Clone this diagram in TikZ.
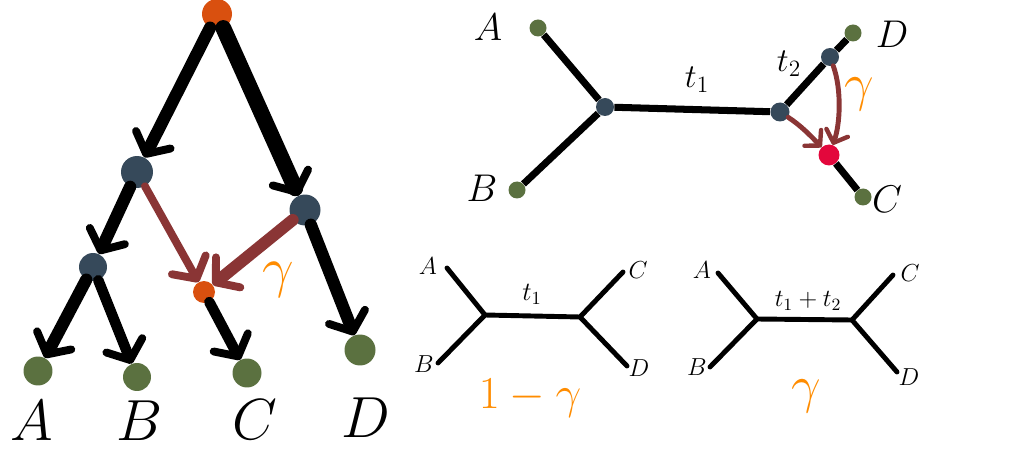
\RequirePackage{fix-cm}
\documentclass[tikz,border=0pt]{standalone}
\usetikzlibrary{arrows.meta}
\definecolor{rootorange}{HTML}{D9500F}
\definecolor{nodeblue}{HTML}{36495A}
\definecolor{leafgreen}{HTML}{5B7140}
\definecolor{redbrown}{HTML}{8A3535}
\definecolor{crimson}{HTML}{E3073C}
\definecolor{gammaorange}{HTML}{FF8C00}
\begin{document}
\begin{tikzpicture}[x=0.02cm,y=-0.02cm,
  dot/.style={circle,inner sep=0pt,draw=none},
  bigtip/.style={-{Straight Barb[length=9pt,width=22pt,line width=4.5pt,round]}},
  bigedge/.style={line width=7pt,black,line cap=round,bigtip},
  rededge/.style={redbrown,line cap=round,bigtip},
  smalltip/.style={-{Straight Barb[length=6pt,width=13pt,line width=2.5pt,round]}},
  topedge/.style={line width=4pt,black},
  topred/.style={line width=2.8pt,redbrown,line cap=round,smalltip},
  treeline/.style={line width=2.8pt,black,line cap=round,line join=round},
  biglab/.style={font=\fontsize{33}{36}\selectfont},
  midlab/.style={font=\fontsize{22}{26}\selectfont},
  smalllab/.style={font=\fontsize{14}{16}\selectfont},
  gam/.style={text=gammaorange,font=\fontsize{30}{34}\selectfont}
]
\useasboundingbox (0,0) rectangle (1010,452);

% ---------- left panel ----------
\node[dot,fill=rootorange,minimum size=0.6cm] (root) at (217,14) {};
\node[dot,fill=nodeblue,minimum size=0.64cm] (lft) at (137,172) {};
\node[dot,fill=nodeblue,minimum size=0.62cm] (rgt) at (305,210) {};
\node[dot,fill=nodeblue,minimum size=0.56cm] (low) at (93,267) {};
\node[dot,fill=rootorange,minimum size=0.44cm] (hyb) at (204,292) {};
\node[dot,fill=leafgreen,minimum size=0.58cm] (la) at (38,371) {};
\node[dot,fill=leafgreen,minimum size=0.56cm] (lb) at (137,377) {};
\node[dot,fill=leafgreen,minimum size=0.58cm] (lc) at (247,373) {};
\node[dot,fill=leafgreen,minimum size=0.62cm] (ld) at (360,350) {};

\draw[bigedge] (root) -- (lft);
\draw[bigedge,line width=9pt] (root) -- (rgt);
\draw[bigedge] (lft) -- (low);
\draw[bigedge] (low) -- (la);
\draw[bigedge,line width=6pt] (low) -- (lb);
\draw[bigedge,line width=6pt] (hyb) -- (lc);
\draw[bigedge] (rgt) -- (ld);
\draw[rededge,line width=4.5pt] (lft) -- (hyb);
\draw[rededge,line width=6.8pt] (rgt) -- (hyb);

\node[biglab] (tA) at (32,421) {$A$};
\node[biglab] (tB) at (140,421) {$B$};
\node[biglab] (tC) at (255,420) {$C$};
\node[biglab] (tD) at (366,418) {$D$};
\node[gam,font=\fontsize{32}{36}\selectfont] (g1) at (278,280) {$\gamma$};

% ---------- top right network ----------
\node[dot,fill=leafgreen,minimum size=0.34cm] (na) at (538,28) {};
\node[dot,fill=leafgreen,minimum size=0.34cm] (nb) at (517,190) {};
\node[dot,fill=leafgreen,minimum size=0.34cm] (nd) at (853,33) {};
\node[dot,fill=leafgreen,minimum size=0.34cm] (nc) at (863,197) {};
\node[dot,fill=nodeblue,minimum size=0.36cm] (nl) at (605,107) {};
\node[dot,fill=nodeblue,minimum size=0.38cm] (nr) at (780,112) {};
\node[dot,fill=nodeblue,minimum size=0.36cm] (nu) at (830,57) {};
\node[dot,fill=crimson,minimum size=0.42cm] (nh) at (829,155) {};

\draw[topedge] (na) -- (nl);
\draw[topedge] (nb) -- (nl);
\draw[topedge] (nl) -- (nr);
\draw[topedge] (nr) -- (nu);
\draw[topedge] (nu) -- (nd);
\draw[topedge] (nh) -- (nc);
\draw[topred] (nr) .. controls (800,125) and (810,135) .. (nh);
\draw[topred] (nu) .. controls (842,90) and (840,125) .. (nh);

\node[midlab] (ta2) at (488,27) {$A$};
\node[midlab] (tb2) at (482,188) {$B$};
\node[midlab] (td2) at (892,34) {$D$};
\node[midlab] (tc2) at (887,199) {$C$};
\node[font=\fontsize{19}{22}\selectfont] (t1) at (697,80) {$t_1$};
\node[font=\fontsize{19}{22}\selectfont] (t2) at (789,64) {$t_2$};
\node[gam,font=\fontsize{30}{34}\selectfont] (g2) at (859,94) {$\gamma$};

% ---------- bottom left tree ----------
\coordinate (bA) at (447,268);
\coordinate (bL) at (485,315);
\coordinate (bB) at (438,363);
\coordinate (bR) at (580,317);
\coordinate (bC) at (623,272);
\coordinate (bD) at (627,366);
\draw[treeline] (bA) -- (bL) -- (bB);
\draw[treeline] (bL) -- (bR);
\draw[treeline] (bC) -- (bR) -- (bD);
\node[smalllab] (sA1) at (428,266) {$A$};
\node[smalllab] (sB1) at (424,364) {$B$};
\node[smalllab] (sC1) at (638,270) {$C$};
\node[smalllab] (sD1) at (639,368) {$D$};
\node[smalllab,font=\fontsize{15}{17}\selectfont] (st1) at (532,294) {$t_1$};
\node[gam,font=\fontsize{26}{30}\selectfont] (g3) at (530,398) {$1-\gamma$};

% ---------- bottom right tree ----------
\coordinate (cA) at (718,273);
\coordinate (cL) at (757,319);
\coordinate (cB) at (710,367);
\coordinate (cR) at (852,320);
\coordinate (cC) at (893,275);
\coordinate (cD) at (897,372);
\draw[treeline] (cA) -- (cL) -- (cB);
\draw[treeline] (cL) -- (cR);
\draw[treeline] (cC) -- (cR) -- (cD);
\node[smalllab] (sA2) at (702,270) {$A$};
\node[smalllab] (sB2) at (697,367) {$B$};
\node[smalllab] (sC2) at (910,273) {$C$};
\node[smalllab] (sD2) at (909,377) {$D$};
\node[smalllab] (st12) at (808,301) {$t_1+t_2$};
\node[gam,font=\fontsize{30}{34}\selectfont] (g4) at (806,396) {$\gamma$};
\end{tikzpicture}
\end{document}
